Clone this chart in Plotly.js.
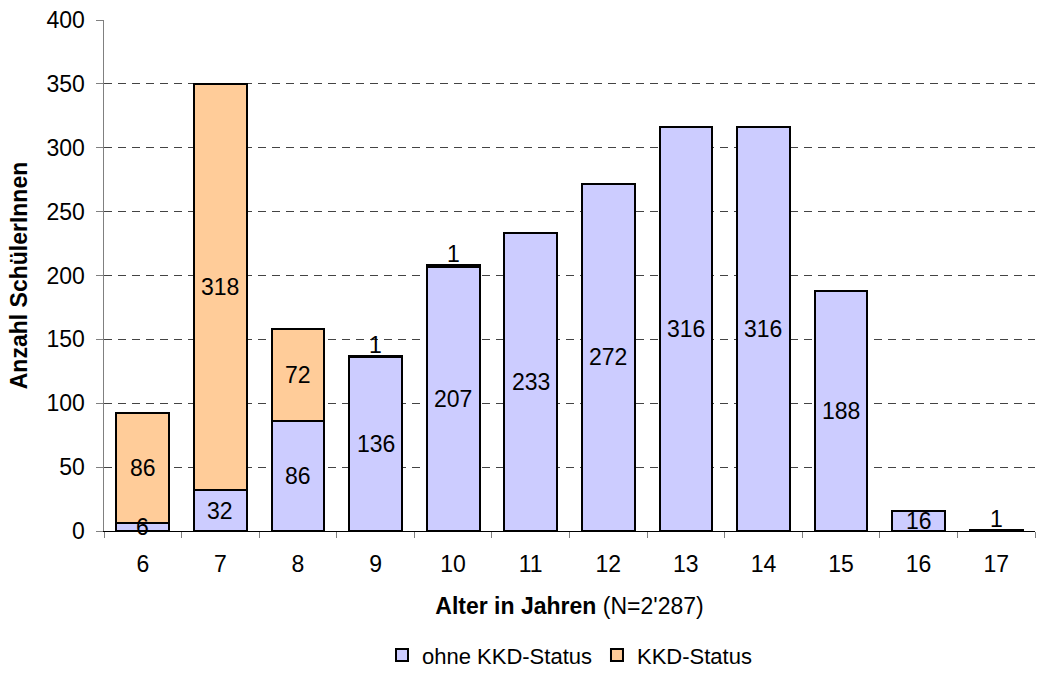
<!DOCTYPE html>
<html><head><meta charset="utf-8">
<script src="https://cdn.plot.ly/plotly-3.0.1.min.js"></script>
<style>body{margin:0;background:#fff}#c{width:1063px;height:677px}</style>
</head><body><div id="c"></div>
<script>
const ages = ['6','7','8','9','10','11','12','13','14','15','16','17'];
const ohne = [6,32,86,136,207,233,272,316,316,188,16,1];
const kkd = [86,318,72,1,1,0,0,0,0,0,0,0];
const nameOhne = 'ohne KKD-Status';
const nameKKD = 'KKD-Status';

const FAM = 'Liberation Sans, Arial, Helvetica, sans-serif';
const font = {family:FAM, size:23, color:'#000'};
const ann = [];
ages.forEach((a,i)=>{
  if (ohne[i] > 0) {
    if (ohne[i] >= 5) ann.push({x:i, y:ohne[i]/2, text:String(ohne[i]), showarrow:false, font:font, yanchor:'middle'});
    else ann.push({x:i, y:ohne[i]+kkd[i], text:String(ohne[i]), showarrow:false, font:font, yanchor:'bottom', yshift:-4});
  }
  if (kkd[i] > 0) {
    if (kkd[i] >= 5) ann.push({x:i, y:ohne[i]+kkd[i]/2, text:String(kkd[i]), showarrow:false, font:font, yanchor:'middle'});
    else ann.push({x:i, y:ohne[i]+kkd[i], text:String(kkd[i]), showarrow:false, font:font, yanchor:'bottom', yshift:-4});
  }
});

const traces = [
  {type:'bar', x:ages, y:ohne, name:nameOhne, marker:{color:'#CCCCFF', line:{color:'#000', width:2}}, hoverinfo:'none'},
  {type:'bar', x:ages, y:kkd, name:nameKKD, marker:{color:'#FFCC99', line:{color:'#000', width:2}}, hoverinfo:'none'}
];
const layout = {
  width:1063, height:677, barmode:'stack', bargap:0.32,
  paper_bgcolor:'#fff', plot_bgcolor:'#fff',
  margin:{l:104, r:28, t:20, b:146, autoexpand:false},
  font:font,
  showlegend:true,
  legend:{orientation:'h', traceorder:'normal', x:0.5, xanchor:'center', y:-0.284, yanchor:'bottom', font:{family:FAM, size:22, color:'#000'}, itemwidth:30, tracegroupgap:0},
  xaxis:{type:'category', range:[-0.5,11.5], automargin:false, showline:true, linecolor:'#000', linewidth:1, ticks:'outside', tickson:'boundaries', ticklen:6, tickcolor:'#808080',
    tickfont:{family:FAM, size:23}, ticklabelstandoff:12, showgrid:false,
    title:{text:'<b>Alter in Jahren</b> (N=2\'287)', font:{family:FAM, size:23}, standoff:22}},
  yaxis:{range:[0,400], dtick:50, automargin:false, showline:true, linecolor:'#808080', linewidth:1.5, ticks:'outside', ticklen:7, tickcolor:'#808080',
    tickfont:{family:FAM, size:23}, ticklabelstandoff:6, showgrid:true, gridcolor:'#444', griddash:'8px,6px', gridwidth:1, zeroline:false,
    title:{text:'<b>Anzahl SchülerInnen</b>', font:{family:FAM, size:23}, standoff:12}},
  annotations:ann
};
Plotly.newPlot('c', traces, layout, {staticPlot:true, displayModeBar:false});
</script></body></html>
